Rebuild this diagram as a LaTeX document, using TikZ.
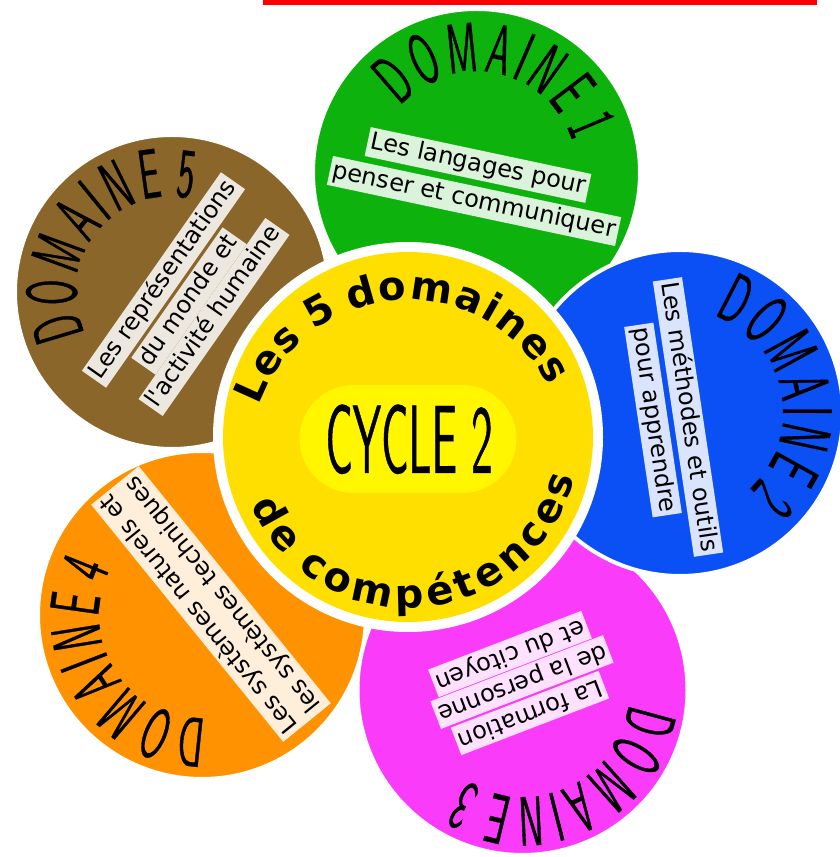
\documentclass[tikz,border=0pt]{standalone}
\usepackage{fontspec}
\usetikzlibrary{decorations.text}
\newfontfamily\txtfont{DejaVu Sans}
\newfontfamily\handfont{lmsans10-regular.otf}[FakeStretch=0.5, FakeBold=0.5]
\newfontfamily\handcycle{lmsans10-regular.otf}[FakeStretch=0.44, FakeBold=0.4]
\definecolor{cbrown}{HTML}{8B662A}
\definecolor{cgreen}{HTML}{0DB20D}
\definecolor{cblue}{HTML}{0A50F5}
\definecolor{cpink}{HTML}{FA3CFA}
\definecolor{corange}{HTML}{FF9200}
\definecolor{cyellow}{HTML}{FFDF00}
\definecolor{clight}{HTML}{FFF600}
\begin{document}
\begin{tikzpicture}[x=1pt,y=1pt,
  disc/.style={circle, inner sep=0pt, draw=white, line width=4pt},
  tbox/.style={fill=white, fill opacity=0.85, text opacity=1, inner xsep=3pt, inner ysep=3pt,
    font=\txtfont\fontsize{24}{31}\selectfont, text height=18pt, text depth=5.5pt},
  dlabel/.style={decorate, decoration={text along path, text align=center,
    text={|\handfont\fontsize{70}{70}\selectfont|{D\kern4pt}{O\kern4pt}{M\kern4pt}{A\kern4pt}{I\kern4pt}{N\kern4pt}{E\kern12pt}#1}}}
]
\useasboundingbox (0,0) rectangle (839,857);
\fill[white] (0,0) rectangle (839,857);
% red bar
\fill[red] (263,852) rectangle (817,857);

% outer discs
\node[disc, fill=cbrown, minimum size=314pt] (d5) at (172,565) {};
\node[disc, fill=cgreen, minimum size=327pt] (d1) at (476.5,684.5) {};
\node[disc, fill=corange, minimum size=328pt] (d4) at (202,242) {};
\node[disc, fill=cpink, minimum size=330pt] (d3) at (522.5,167) {};
\node[disc, fill=cblue, minimum size=326pt] (d2) at (680,444) {};

% DOMAINE labels
\path[dlabel={1}] (d1.center) ++(168.5:101) arc[start angle=168.5, end angle=-11.5, radius=101];
\path[dlabel={2}] (d2.center) ++(101.5:103) arc[start angle=101.5, end angle=-78.5, radius=103];
\path[dlabel={3}] (d3.center) ++(25.4:107) arc[start angle=25.4, end angle=-154.6, radius=107];
\path[dlabel={4}] (d4.center) ++(302.7:103) arc[start angle=302.7, end angle=122.7, radius=103];
\path[dlabel={5}] (d5.center) ++(231.7:96) arc[start angle=231.7, end angle=51.7, radius=96];

% text boxes
\node[tbox, rotate=-12] (g1) at (478,692) {Les langages pour};
\node[tbox, rotate=-12] (g2) at (474,656) {penser et communiquer};
\node[tbox, rotate=-81.5] (b1) at (688,440) {Les méthodes et outils};
\node[tbox, rotate=-81.5] (b2) at (653,437) {pour apprendre};
\node[tbox, rotate=201] (p1) at (530,144) {La formation};
\node[tbox, rotate=201] (p2) at (522,175) {de la personne};
\node[tbox, rotate=201] (p3) at (510,203) {et du citoyen};
\node[tbox, rotate=129, align=center, text height=, text depth=] (o1) at (211,253) {Les systèmes naturels et\\les systèmes techniques};
\node[tbox, rotate=55] (r1) at (163.5,577) {Les représentations};
\node[tbox, rotate=55] (r2) at (189,556) {du monde et};
\node[tbox, rotate=55] (r3) at (214,540) {l'activité humaine};

% centre
\node[circle, inner sep=0pt, fill=white, minimum size=390pt] (ring) at (408,420) {};
\node[circle, inner sep=0pt, fill=cyellow, minimum size=370pt] (core) at (408,420) {};
\node[rectangle, rounded corners=53.9pt, fill=clight, minimum width=217pt, minimum height=108pt] (pill) at (408,418) {};
\node[anchor=base, inner sep=0pt] (cyc) at (409,384) {\handcycle\fontsize{97}{97}\selectfont CYCLE 2};

\path[decorate, decoration={text along path, text align=center,
  text={|\txtfont\bfseries\fontsize{40}{40}\selectfont|{L\kern2pt}{e\kern2pt}{s\kern14pt}{5\kern14pt}{d\kern2pt}{o\kern2pt}{m\kern2pt}{a\kern2pt}{i\kern2pt}{n\kern2pt}{e\kern2pt}s}}]
  (408,399) ++(184:158) arc[start angle=184, end angle=4, radius=158];
\path[decorate, decoration={text along path, text align=center,
  text={|\txtfont\bfseries\fontsize{40}{40}\selectfont|{d\kern5pt}{e\kern18pt}{c\kern5pt}{o\kern5pt}{m\kern5pt}{p\kern5pt}{é\kern5pt}{t\kern5pt}{e\kern5pt}{n\kern5pt}{c\kern5pt}{e\kern5pt}s}}]
  (408,420) ++(184.9:171) arc[start angle=184.9, end angle=364.9, radius=171];
\end{tikzpicture}
\end{document}
